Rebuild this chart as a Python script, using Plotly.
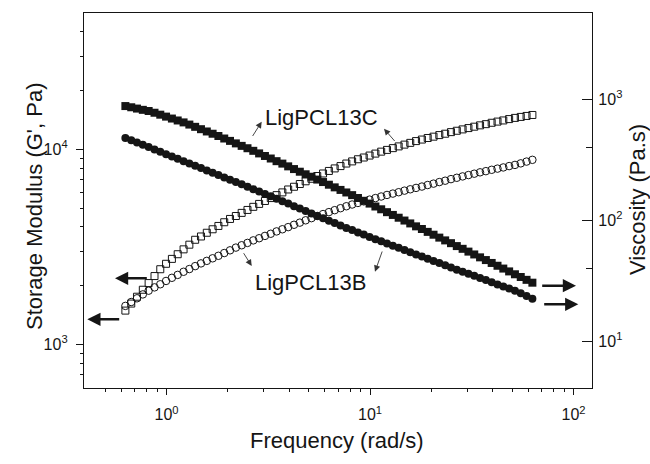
import plotly.graph_objects as go

# ---------------- data ----------------
freq = [0.628, 0.671, 0.716, 0.765, 0.817, 0.873, 0.932, 0.995, 1.063, 1.135,
        1.213, 1.295, 1.383, 1.477, 1.578, 1.685, 1.799, 1.922, 2.052, 2.192,
        2.341, 2.500, 2.670, 2.852, 3.046, 3.253, 3.474, 3.710, 3.962, 4.232,
        4.520, 4.827, 5.155, 5.505, 5.879, 6.280, 6.707, 7.163, 7.650, 8.170,
        8.725, 9.318, 9.952, 10.63, 11.35, 12.12, 12.95, 13.83, 14.77, 15.77,
        16.84, 17.99, 19.21, 20.52, 21.91, 23.41, 25.00, 26.70, 28.52, 30.46,
        32.53, 34.74, 37.10, 39.62, 42.32, 45.19, 48.27, 51.55, 55.05, 58.79, 62.80]

# storage modulus G' (Pa), left axis, open markers
gp_13C = [1489, 1618, 1754, 1905, 2061, 2239, 2427, 2588, 2742, 2897,
          3069, 3243, 3436, 3573, 3733, 3890, 4046, 4227, 4395, 4550,
          4721, 4887, 5070, 5248, 5433, 5623, 5821, 6012, 6223, 6427,
          6637, 6855, 7063, 7295, 7516, 7745, 7980, 8204, 8453, 8670,
          8892, 9078, 9290, 9506, 9727, 9931, 10140, 10350, 10570, 10790,
          11020, 11220, 11430, 11610, 11830, 12020, 12250, 12450, 12650, 12850,
          13060, 13270, 13460, 13680, 13870, 14060, 14290, 14490, 14660, 14830, 15000]
gp_13B = [1574, 1648, 1722, 1803, 1884, 1959, 2032, 2113, 2193, 2270,
          2355, 2432, 2518, 2600, 2679, 2761, 2844, 2938, 3034, 3133,
          3221, 3311, 3412, 3499, 3597, 3690, 3793, 3890, 3990, 4102,
          4207, 4325, 4436, 4550, 4656, 4764, 4875, 4989, 5105, 5212,
          5309, 5408, 5521, 5623, 5728, 5834, 5929, 6026, 6138, 6237,
          6339, 6442, 6561, 6668, 6792, 6902, 7031, 7145, 7261, 7379,
          7499, 7621, 7727, 7852, 7962, 8072, 8204, 8318, 8472, 8650, 8831]

# complex viscosity (Pa.s), right axis, filled markers
eta_13C = [879, 859, 838, 818, 800, 774, 746, 719, 693, 668,
           644, 618, 592, 566, 542, 519, 497, 474, 453, 432,
           412, 394, 375, 357, 340, 324, 308, 294, 279, 265,
           252, 240, 229, 217, 207, 196.8, 187.1, 178.2, 169.8, 161.4,
           152.8, 144.9, 137.4, 130.0, 123.3, 116.7, 110.7, 105.0, 99.5, 94.2,
           89.1, 84.7, 80.2, 76.0, 71.9, 68.2, 64.7, 61.2, 58.1, 55.1,
           52.2, 49.4, 46.9, 44.4, 42.1, 39.9, 37.8, 35.8, 34.0, 32.2, 30.5]
eta_13B = [479, 458, 439, 420, 403, 385, 369, 352, 337, 322,
           308, 295, 282, 270, 258, 247, 237, 226, 216, 207,
           198.2, 189.2, 180.7, 173.0, 165.2, 157.8, 150.7, 143.9, 137.4, 130.9,
           125.0, 119.4, 114.0, 108.6, 104.0, 99.3, 94.8, 90.6, 86.5, 83.0,
           79.4, 76.2, 72.9, 69.8, 67.0, 64.3, 61.7, 59.2, 56.8, 54.4,
           52.2, 50.1, 48.1, 46.1, 44.3, 42.5, 40.7, 39.1, 37.6, 36.1,
           34.8, 33.3, 32.1, 30.8, 29.5, 28.4, 27.3, 26.2, 24.9, 23.7, 22.5]

x_ticks = [1, 10, 100]
x_ticktext = ["10<sup>0</sup>", "10<sup>1</sup>", "10<sup>2</sup>"]
y_ticks = [1000, 10000]
y_ticktext = ["10<sup>3</sup>", "10<sup>4</sup>"]
y2_ticks = [10, 100, 1000]
y2_ticktext = ["10<sup>1</sup>", "10<sup>2</sup>", "10<sup>3</sup>"]
x_minor = [0.5, 0.6, 0.7, 0.8, 0.9, 2, 3, 4, 5, 6, 7, 8, 9,
           20, 30, 40, 50, 60, 70, 80, 90]
y_minor = [700, 800, 900, 2000, 3000, 4000, 5000, 6000, 7000, 8000, 9000,
           20000, 30000, 40000]
y2_minor = [40, 400]

label_C = "LigPCL13C"
label_B = "LigPCL13B"
x_title = "Frequency (rad/s)"
y_title = "Storage Modulus (G', Pa)"
y2_title = "Viscosity (Pa.s)"

# ---------------- figure ----------------
W, H = 650, 464
ML, MR, MT, MB = 84, 58, 13, 76
PW, PH = W - ML - MR, H - MT - MB
FONT = "Liberation Sans, Arial, sans-serif"
INK = "#151515"


def px(xp):
    return (xp - ML) / PW


def py(yp):
    return (H - MB - yp) / PH


fig = go.Figure()
fig.add_trace(go.Scatter(x=freq, y=gp_13B, mode="markers", yaxis="y",
                         marker=dict(symbol="circle-open", size=7.5, color=INK,
                                     line=dict(width=1, color=INK))))
fig.add_trace(go.Scatter(x=freq, y=gp_13C, mode="markers", yaxis="y",
                         marker=dict(symbol="square-open", size=7, color=INK,
                                     line=dict(width=1, color=INK))))
fig.add_trace(go.Scatter(x=freq, y=eta_13B, mode="markers", yaxis="y2",
                         marker=dict(symbol="circle", size=8, color=INK,
                                     line=dict(width=0))))
fig.add_trace(go.Scatter(x=freq, y=eta_13C, mode="markers", yaxis="y2",
                         marker=dict(symbol="square", size=8, color=INK,
                                     line=dict(width=0))))

axis_common = dict(type="log", showline=True, linecolor=INK, linewidth=1.3,
                   showgrid=False, zeroline=False, tickcolor=INK, tickwidth=1.2,
                   tickfont=dict(family=FONT, size=16, color=INK),
                   tickmode="array", automargin=False)

fig.update_layout(
    width=W, height=H,
    margin=dict(l=ML, r=MR, t=MT, b=MB),
    paper_bgcolor="white", plot_bgcolor="white",
    showlegend=False,
    font=dict(family=FONT, color=INK),
    xaxis=dict(**axis_common, range=[-0.4054, 2.0909], mirror=True,
               ticks="outside", ticklen=6, ticklabelstandoff=6,
               tickvals=x_ticks, ticktext=x_ticktext,
               minor=dict(tickmode="array", tickvals=x_minor, ticks="outside",
                          ticklen=3, tickwidth=1, tickcolor=INK)),
    yaxis=dict(**axis_common, range=[2.776, 4.699],
               ticks="outside", ticklen=7, ticklabelstandoff=5,
               tickvals=y_ticks, ticktext=y_ticktext,
               minor=dict(tickmode="array", tickvals=y_minor, ticks="outside",
                          ticklen=3, tickwidth=1, tickcolor=INK)),
    yaxis2=dict(**axis_common, range=[0.614, 3.713], overlaying="y", side="right",
                ticks="inside", ticklen=10, ticklabelstandoff=2,
                tickvals=y2_ticks, ticktext=y2_ticktext,
                minor=dict(tickmode="array", tickvals=y2_minor, ticks="inside",
                           ticklen=6, tickwidth=1, tickcolor=INK)),
)

annotations = []
# axis titles
annotations.append(dict(x=px(337), y=py(440), xref="paper", yref="paper",
                        text=x_title, showarrow=False,
                        xanchor="center", yanchor="middle",
                        font=dict(family=FONT, size=22, color=INK)))
annotations.append(dict(x=px(35), y=py(206), xref="paper", yref="paper",
                        text=y_title, textangle=-90, showarrow=False,
                        xanchor="center", yanchor="middle",
                        font=dict(family=FONT, size=22, color=INK)))
annotations.append(dict(x=px(637), y=py(200), xref="paper", yref="paper",
                        text=y2_title, textangle=-90, showarrow=False,
                        xanchor="center", yanchor="middle",
                        font=dict(family=FONT, size=22, color=INK)))
# axis-assignment arrows (head pixel, tail offset)
big_arrows = [((115, 278.3), (33.3, 0)), ((87.3, 319.3), (33.4, 0)),
              ((576, 285.7), (-35.3, 0)), ((578.3, 304.3), (-35.6, 0))]
for (hx, hy), (ax, ay) in big_arrows:
    annotations.append(dict(x=px(hx), y=py(hy), xref="paper", yref="paper",
                            ax=ax, ay=ay, axref="pixel", ayref="pixel", text="",
                            showarrow=True, arrowhead=2, arrowsize=1.1,
                            arrowwidth=2.4, arrowcolor=INK))
# thin label arrows
small_arrows = [((261.7, 121.7), (-10, 15.8)), ((384, 128.8), (12, 13.7)),
                ((251.7, 266), (-9, -14.3)), ((375, 271.7), (7.7, -21.7))]
for (hx, hy), (ax, ay) in small_arrows:
    annotations.append(dict(x=px(hx), y=py(hy), xref="paper", yref="paper",
                            ax=ax, ay=ay, axref="pixel", ayref="pixel", text="",
                            showarrow=True, arrowhead=2, arrowsize=1.4,
                            arrowwidth=0.9, arrowcolor="#333333"))
annotations.append(dict(x=px(321), y=py(117), xref="paper", yref="paper",
                        text=label_C, showarrow=False, xanchor="center", yanchor="middle",
                        font=dict(family=FONT, size=22, color=INK)))
annotations.append(dict(x=px(310), y=py(282), xref="paper", yref="paper",
                        text=label_B, showarrow=False, xanchor="center", yanchor="middle",
                        font=dict(family=FONT, size=22, color=INK)))
fig.update_layout(annotations=annotations)

# remove the browser's default 8px page margin so the figure fills the window exactly
fig.write_html("out.html",
               config={"displayModeBar": False},
               post_script="document.body.style.margin='0';document.body.style.overflow='hidden';")
